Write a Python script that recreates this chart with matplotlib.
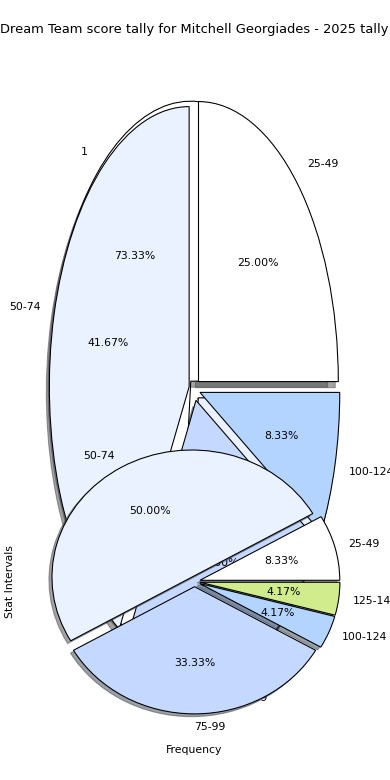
import matplotlib
matplotlib.use("Agg")
import matplotlib.pyplot as plt

title = "Dream Team score tally for Mitchell Georgiades - 2025 tally"
x_label = "Frequency"
y_label = "Stat Intervals"

# first (back) pie in the upper axes
back_labels = ["1", "2"]
back_values = [11, 4]

# second pie in the upper axes
upper_labels = ["25-49", "50-74", "75-99", "100-124"]
upper_values = [3, 5, 3, 1]

# pie in the lower axes
lower_labels = ["25-49", "50-74", "75-99", "100-124", "125-149"]
lower_values = [2, 12, 8, 1, 1]

palette = ["#ffffff", "#eaf1ff", "#c5d8ff", "#b3d4ff", "#d0ec8c"]

W, H = 390, 780
DPI = 78
fig = plt.figure(figsize=(W / DPI, H / DPI), dpi=DPI)

left_px, width_px = 19.8, 349.5
ax_top = fig.add_axes([left_px / W, (H - 739.5) / H, width_px / W, 700 / H])
ax_bot = fig.add_axes([left_px / W, (H - 740.6) / H, width_px / W, 318 / H])
ax_bot.patch.set_visible(False)

common = dict(autopct="%1.2f%%", shadow=True, wedgeprops={"edgecolor": "black"})

ax_top.pie(back_values, labels=back_labels, colors=palette[:len(back_values)],
           explode=[0.04] * len(back_values), **common)
ax_top.pie(upper_values, labels=upper_labels, colors=palette[:len(upper_values)],
           explode=[0.04] * len(upper_values), **common)
ax_top.set_aspect("auto")
ax_top.set_xlim(-1.25, 1.25)
ax_top.set_ylim(-1.25, 1.25)
ax_top.set_title(title, fontsize=12)

ax_bot.pie(lower_values, labels=lower_labels, colors=palette[:len(lower_values)],
           explode=[0.04] * len(lower_values), **common)
ax_bot.set_aspect("auto")
ax_bot.set_xlim(-1.25, 1.25)
ax_bot.set_ylim(-1.25, 1.25)
ax_bot.set_xlabel(x_label)
ax_bot.set_ylabel(y_label)

fig.savefig("out.png", dpi=DPI)
